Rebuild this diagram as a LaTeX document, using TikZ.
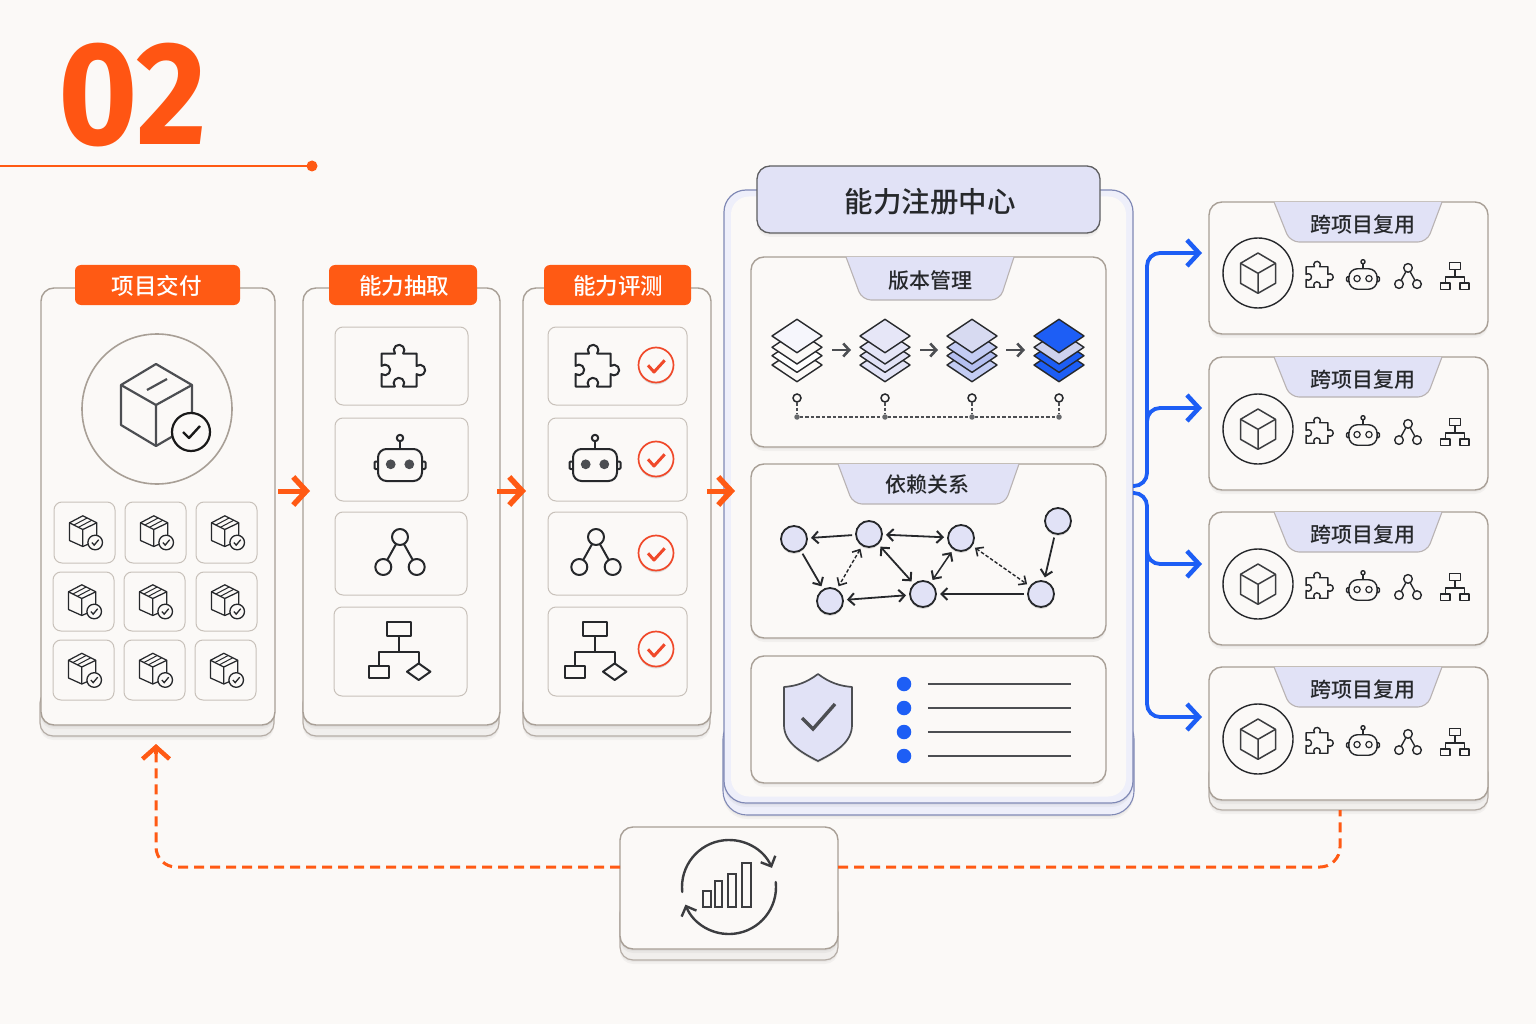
\documentclass[tikz,border=0pt]{standalone}
\usepackage{fontspec}
\setmainfont{Noto Sans CJK SC}
\newfontfamily\numfont{Fira Sans}
\newfontfamily\medf{Noto Sans CJK SC Medium}
\newfontfamily\strf{Noto Sans CJK SC Medium}
\usetikzlibrary{arrows.meta,shadows,calc}
\definecolor{bgc}{HTML}{FBF9F7}
\definecolor{edgec}{HTML}{A89F96}
\definecolor{tilee}{HTML}{C8C1BA}
\definecolor{orng}{HTML}{FF5A14}
\definecolor{lav}{HTML}{E1E2F6}
\definecolor{inkc}{HTML}{26282B}
\definecolor{greyc}{HTML}{4C4E52}
\definecolor{bluec}{HTML}{1D5EF5}
\definecolor{redc}{HTML}{F0492A}
\definecolor{hubedge}{HTML}{8089B5}
\tikzset{
  softshade/.style={general shadow={shadow xshift=0pt,shadow yshift=-4pt,opacity=.035,fill=black},general shadow={shadow xshift=0pt,shadow yshift=-2pt,opacity=.035,fill=black}},
  cardbox/.style={rectangle,rounded corners=13pt,draw=edgec,line width=1.4pt,fill=bgc,inner sep=0pt,outer sep=0pt,softshade},
  backbox/.style={rectangle,rounded corners=13pt,draw=edgec!85,line width=1.2pt,fill=bgc!96!black,inner sep=0pt,outer sep=0pt,softshade},
  tilebox/.style={rectangle,rounded corners=8pt,draw=tilee,line width=1pt,fill=bgc,inner sep=0pt,outer sep=0pt},
  tagbox/.style={rectangle,rounded corners=6pt,fill=orng,text=white,inner sep=0pt,outer sep=0pt},
  labelt/.style={inner sep=0pt,text=inkc,font=\fontsize{21pt}{23pt}\selectfont\medf},
  tagt/.style={text=white,inner sep=0pt,font=\fontsize{22.5pt}{24pt}\selectfont\strf},
  ico/.style={draw=inkc,line width=2pt,line join=round},
  icos/.style={draw=inkc,line width=1.4pt,line join=round},
  oarrow/.style={draw=orng,line width=5pt,-{Straight Barb[length=13pt,width=28pt,line width=5.5pt]}},
  blarrow/.style={draw=bluec,line width=3.8pt,rounded corners=13pt,-{Straight Barb[length=12pt,width=26pt,line width=4.5pt]}},
  fbline/.style={draw=orng,line width=3pt,dash pattern=on 10pt off 6pt,rounded corners=20pt},
  gnode/.style={circle,draw=inkc,line width=1.8pt,fill=lav,minimum size=26pt,inner sep=0pt,outer sep=0pt,general shadow={shadow xshift=0pt,shadow yshift=-2pt,opacity=.12,fill=black}},
  glink/.style={draw=inkc,line width=1.8pt,>={Straight Barb[length=6pt,width=12pt,line width=2pt]},shorten <=4pt,shorten >=4pt},
  gdash/.style={glink,line width=1.4pt,dash pattern=on 3.5pt off 2pt,>={Straight Barb[length=6pt,width=11pt,line width=1.6pt]}},
  verarrow/.style={draw=greyc,line width=2.4pt,-{Straight Barb[length=6pt,width=13pt,line width=2.6pt]}},
  laydm/.style={draw=inkc,line width=1.4pt,line join=round},
}
\newcommand{\cardat}[6]{\node[#1,minimum width={(#5-#3)*1pt},minimum height={(#6-#4)*1pt}] (#2) at ({(#3+#5)/2},{(#4+#6)/2}) {};}
\newcommand{\traptab}[6]{%
  \fill[lav] (#1,#5) [rounded corners=9pt] -- (#2,#6) -- (#3,#6) [sharp corners] -- (#4,#5) -- cycle;
  \draw[draw=edgec!70!lav,line width=1.1pt] (#1,#5) [rounded corners=9pt] -- (#2,#6) -- (#3,#6) [sharp corners] -- (#4,#5);
}
\newcommand{\puzzleicon}[4]{\begin{scope}[shift={(#1,#2)},scale=#3]
  \draw[#4] (-17.5,-16.5) -- (-4,-16.5) arc[start angle=220,end angle=-40,radius=5.3pt] -- (17.5,-16.5) -- (17.5,-4) arc[start angle=130,end angle=-130,radius=5.3pt] -- (17.5,16.5) -- (4,16.5) arc[start angle=-40,end angle=220,radius=5.3pt] -- (-17.5,16.5) -- (-17.5,4) arc[start angle=-130,end angle=130,radius=5.3pt] -- cycle;
\end{scope}}
\newcommand{\roboticon}[5]{\begin{scope}[shift={(#1,#2)},scale=#3]
  \draw[#4,rounded corners=8.5pt] (-22,-16) rectangle (22,16);
  \draw[#4] (0,-16) -- (0,-24);
  \draw[#4] (0,-27) circle[radius=3.2pt];
  \draw[#4,rounded corners=1pt] (-22,-3.5) -- (-25.5,-3.5) -- (-25.5,4) -- (-22,4);
  \draw[#4,rounded corners=1pt] (22,-3.5) -- (25.5,-3.5) -- (25.5,4) -- (22,4);
  \path[#5] (-9.3,-.7) circle[radius=4.9pt] (9.3,-.7) circle[radius=4.9pt];
\end{scope}}
\newcommand{\neticon}[4]{\begin{scope}[shift={(#1,#2)},scale=#3]
  \draw[#4] (0,-15) circle[radius=8pt] (-16.7,15) circle[radius=8pt] (16.7,15) circle[radius=8pt];
  \draw[#4] (-3.9,-8) -- (-12.8,8) (3.9,-8) -- (12.8,8);
\end{scope}}
\newcommand{\flowicon}[3]{\begin{scope}[shift={(#1,#2)}]
  \draw[#3] (-12,-29.7) rectangle (12,-15.7);
  \draw[#3] (0,-15.7) -- (0,0) (-19.7,14.3) -- (-19.7,0) -- (19.7,0) -- (19.7,11.4);
  \draw[#3] (-30,14.3) rectangle (-9.7,26.3);
  \draw[#3] (19.7,11.4) -- (31.4,19.7) -- (19.7,28) -- (8,19.7) -- cycle;
\end{scope}}
\newcommand{\flowsmall}[3]{\begin{scope}[shift={(#1,#2)}]
  \draw[#3] (-5.7,-14.7) rectangle (5.3,-7.3);
  \draw[#3] (0,-7.3) -- (0,0) (-9.5,6) -- (-9.5,0) -- (9.5,0) -- (9.5,6);
  \draw[#3] (-14.3,6) rectangle (-5,12.7);
  \draw[#3] (5,6) rectangle (14,12.7);
\end{scope}}
\newcommand{\minibox}[2]{\begin{scope}[shift={(#1,#2)}]
  \draw[draw=inkc,line width=1.25pt,line join=round] (-1.7,-16.7) -- (12.3,-9.7) -- (12.3,8) -- (-1.7,14) -- (-15,8) -- (-15,-9.7) -- cycle;
  \draw[draw=inkc,line width=1.25pt,line join=round] (-15,-9.7) -- (-1.7,-3) -- (12.3,-9.7) (-1.7,-3) -- (-1.7,14);
  \draw[draw=inkc,line width=1pt] (-10.6,-7.5) -- (2.7,-14.5) (-6.1,-5.2) -- (7.2,-12.2);
  \draw[draw=inkc,fill=bgc,line width=1.3pt] (10.7,10) circle[radius=7.3pt];
  \draw[draw=inkc,line width=1.3pt] (7.3,10) -- (9.7,12.6) -- (14.2,7.2);
\end{scope}}
\newcommand{\redcheck}[2]{\begin{scope}[shift={(#1,#2)}]
  \draw[draw=redc,fill=bgc,line width=1.7pt,general shadow={shadow xshift=0pt,shadow yshift=-2pt,opacity=.12,fill=black}] (0,0) circle[radius=17.5pt];
  \draw[draw=redc,line width=3pt,line join=round] (-8,.3) -- (-2,7) -- (8.7,-4.7);
\end{scope}}
\newcommand{\layeritem}[5]{%
  \draw[laydm,fill=#2] (#1-25,365) -- (#1,348.3) -- (#1+25,365) -- (#1,381.7) -- cycle;
  \draw[laydm,fill=#3] (#1-25,355.7) -- (#1,339) -- (#1+25,355.7) -- (#1,372.4) -- cycle;
  \draw[laydm,fill=#4] (#1-25,347.3) -- (#1,330.6) -- (#1+25,347.3) -- (#1,364) -- cycle;
  \draw[laydm,fill=#5] (#1-25,336) -- (#1,319.3) -- (#1+25,336) -- (#1,352.7) -- cycle;
}
\definecolor{layA}{HTML}{C3CCF3}
\definecolor{layB}{HTML}{B4BFF0}
\definecolor{layC}{HTML}{D7DAF1}
\definecolor{layD}{HTML}{CDD2EE}
\begin{document}
\begin{tikzpicture}[x=1pt,y=-1pt]
\useasboundingbox (0,0) rectangle (1536,1024);
\fill[bgc] (0,0) rectangle (1536,1024);
% heading
\node[inner sep=0pt,xscale=.925,text=orng!95!red,font=\fontsize{147pt}{147pt}\selectfont\numfont\bfseries] (num) at (132.5,95.5) {02};
\draw[orng,line width=1.6pt] (0,166) -- (312,166);
\fill[orng] (312,166) circle[radius=5.5pt];

% process columns
\cardat{backbox}{p1b}{40}{690}{274}{736}
\cardat{cardbox}{p1}{41}{288}{275}{725}
\cardat{backbox}{p2b}{303}{690}{499}{736}
\cardat{cardbox}{p2}{303}{288}{500}{725}
\cardat{backbox}{p3b}{523}{690}{710}{736}
\cardat{cardbox}{p3}{523}{288}{711}{725}
\cardat{tagbox}{tag1}{75}{265}{240}{305}
\cardat{tagbox}{tag2}{329}{265}{477}{305}
\cardat{tagbox}{tag3}{544}{265}{691}{305}
\node[tagt] (tag1t) at (156.5,286) {项目交付};
\node[tagt] (tag2t) at (404,286) {能力抽取};
\node[tagt] (tag3t) at (618,286) {能力评测};

% big package
\node[circle,draw=edgec,line width=1.6pt,minimum size=150pt,inner sep=0pt] (bigc) at (157,409) {};
\draw[draw=greyc,line width=2.2pt,line join=round] (156,364) -- (192,385) -- (192,425) -- (156,446) -- (121,425) -- (121,385) -- cycle;
\draw[draw=greyc,line width=2.2pt,line join=round] (121,385) -- (156,405) -- (192,385) (156,405) -- (156,446);
\draw[draw=greyc,line width=2.2pt] (147,390) -- (167,379);
\node[circle,draw=black!90,fill=bgc,line width=2.2pt,minimum size=38pt,inner sep=0pt] (bigchk) at (191,432) {};
\draw[draw=black!90,line width=2.4pt,line join=round] (183,432) -- (189,438) -- (200,426);
% package tiles
\cardat{tilebox}{a1}{54}{502}{115}{563}
\cardat{tilebox}{a2}{125}{502}{186}{563}
\cardat{tilebox}{a3}{196}{502}{257}{563}
\cardat{tilebox}{a4}{53}{572}{114}{631}
\cardat{tilebox}{a5}{124}{572}{185}{631}
\cardat{tilebox}{a6}{196}{572}{257}{631}
\cardat{tilebox}{a7}{53}{640}{114}{700}
\cardat{tilebox}{a8}{124}{640}{185}{700}
\cardat{tilebox}{a9}{195}{640}{256}{700}
\minibox{84.5}{532.5}\minibox{155.5}{532.5}\minibox{226.5}{532.5}
\minibox{83.5}{601.5}\minibox{154.5}{601.5}\minibox{226.5}{601.5}
\minibox{83.5}{670}\minibox{154.5}{670}\minibox{225.5}{670}

% capability tiles
\cardat{tilebox}{b1}{335}{327}{468}{405}
\cardat{tilebox}{b2}{335}{418}{468}{501}
\cardat{tilebox}{b3}{335}{512}{467}{595}
\cardat{tilebox}{b4}{334}{607}{467}{696}
\puzzleicon{399}{370}{1}{ico}
\roboticon{400}{465}{1}{ico}{fill=greyc}
\neticon{400}{552}{1}{ico}
\flowicon{399}{652}{ico}
\cardat{tilebox}{c1}{548}{327}{687}{405}
\cardat{tilebox}{c2}{548}{418}{687}{501}
\cardat{tilebox}{c3}{548}{512}{687}{595}
\cardat{tilebox}{c4}{548}{607}{687}{696}
\puzzleicon{593}{370}{1}{ico}
\roboticon{595}{465}{1}{ico}{fill=greyc}
\neticon{596}{552}{1}{ico}
\flowicon{595}{652}{ico}
\redcheck{656}{365}\redcheck{656}{459}\redcheck{656}{553}\redcheck{656}{649}

% registry hub
\node[rectangle,rounded corners=24pt,draw=hubedge,fill=lav!55!white,line width=1.1pt,minimum width=411pt,minimum height=100pt,softshade] (hubb) at (928.5,765) {};
\node[rectangle,rounded corners=22pt,draw=hubedge,fill=lav!55!white,line width=1.2pt,minimum width=409pt,minimum height=613pt,inner sep=0pt,outer sep=0pt,softshade] (hub) at (928.5,496.5) {};
\node[rectangle,rounded corners=18pt,fill=bgc,minimum width=395pt,minimum height=600pt,inner sep=0pt] (hubi) at (928.5,496.5) {};
\cardat{rectangle,rounded corners=13pt,draw=greyc!80!edgec,line width=1.3pt,fill=lav,inner sep=0pt,outer sep=0pt,softshade}{title}{757}{166}{1100}{233}
\node[inner sep=0pt,text=inkc,font=\fontsize{28.5pt}{30pt}\selectfont\strf] (titlet) at (930,202) {能力注册中心};
% version panel
\cardat{cardbox}{v}{751}{257}{1106}{447}
\traptab{846}{862}{1000}{1014}{257}{300}
\node[labelt] (vt) at (930,280.5) {版本管理};
\layeritem{797}{bgc}{white}{bgc}{lav!30!white}
\layeritem{885}{lav!95!white}{lav}{lav!90!white}{lav!85!white}
\layeritem{972}{layA}{layB}{layA}{layC}
\layeritem{1059}{bluec}{bluec}{layD}{bluec}
\draw[verarrow] (832,350) -- (851,350);
\draw[verarrow] (920,350) -- (938,350);
\draw[verarrow] (1006,350) -- (1025,350);
\foreach \n/\x in {1/797,2/885,3/972,4/1059}{
  \node[circle,draw=inkc,fill=bgc,line width=1.5pt,minimum size=8pt,inner sep=0pt,outer sep=0pt] (vo\n) at (\x,398) {};
  \node[circle,fill=greyc!85,minimum size=5.5pt,inner sep=0pt,outer sep=0pt] (vd\n) at (\x,417) {};
  \draw[draw=greyc,line width=1.5pt,dash pattern=on 3.5pt off 2pt] (vo\n) -- (vd\n);
}
\draw[draw=greyc,line width=1.5pt,dash pattern=on 3.5pt off 2pt] (vd1) -- (vd2);
\draw[draw=greyc,line width=1.5pt,dash pattern=on 3.5pt off 2pt] (vd2) -- (vd3);
\draw[draw=greyc,line width=1.5pt,dash pattern=on 3.5pt off 2pt] (vd3) -- (vd4);
% dependency panel
\cardat{cardbox}{d}{751}{464}{1106}{638}
\traptab{838}{853}{1005}{1019}{464}{504}
\node[labelt] (dt) at (927,485) {依赖关系};
\node[gnode] (gA) at (794,539) {};
\node[gnode] (gB) at (869,534) {};
\node[gnode] (gC) at (961,538) {};
\node[gnode] (gD) at (1058,521) {};
\node[gnode] (gE) at (830,601) {};
\node[gnode] (gF) at (923,594) {};
\node[gnode] (gG) at (1041,594) {};
\draw[glink,->] (gB) -- (gA);
\draw[glink,<->] (gB) -- (gC);
\draw[glink,->] (gA) -- (gE);
\draw[gdash,<->] (gB) -- (gE);
\draw[glink,<->] (gB) -- (gF);
\draw[glink,<->,line width=1.5pt] (gC) -- (gF);
\draw[gdash,<->] (gC) -- (gG);
\draw[glink,<->] (gE) -- (gF);
\draw[glink,->] (gG) -- (gF);
\draw[glink,->] (gD) -- (gG);
% governance panel
\cardat{cardbox}{s}{751}{656}{1106}{783}
\draw[draw=greyc,fill=lav,line width=1.7pt,line join=round,general shadow={shadow xshift=0pt,shadow yshift=-2pt,opacity=.08,fill=black}] (818,674) .. controls (806,683) and (796,686) .. (784,687) -- (784,725) .. controls (784,742) and (800,752) .. (818,761) .. controls (836,752) and (852,742) .. (852,725) -- (852,687) .. controls (840,686) and (830,683) .. (818,674) -- cycle;
\draw[draw=greyc,line width=3.4pt] (802,718) -- (813,729) -- (835,704);
\foreach \n/\y in {1/684,2/708,3/732,4/756}{
  \node[circle,fill=bluec,minimum size=14.5pt,inner sep=0pt,outer sep=0pt] (sb\n) at (904,\y) {};
  \coordinate (se\n) at (1071,\y);
  \draw[draw=greyc,line width=1.5pt] ([xshift=16.5pt]sb\n.east) -- (se\n);
}

% reuse cards
\cardat{backbox}{r4b}{1209}{760}{1488}{810}
\cardat{cardbox}{r1}{1209}{202}{1488}{334}
\cardat{cardbox}{r2}{1209}{357}{1488}{490}
\cardat{cardbox}{r3}{1209}{512}{1488}{645}
\cardat{cardbox}{r4}{1209}{667}{1488}{800}
\foreach \n/\t/\c in {1/202/273,2/357/429,3/512/584,4/667/739}{
  \traptab{1274}{1290}{1427}{1442}{\t}{\t+40}
  \node[labelt] (rt\n) at (1363,\t+22.5) {跨项目复用};
  \node[circle,draw=inkc,line width=1.4pt,minimum size=70pt,inner sep=0pt] (rc\n) at (1258,\c) {};
  \begin{scope}[shift={(1258,\c)}]
    \draw[draw=inkc!90,line width=1.5pt,line join=round] (0,-20) -- (17.5,-9.7) -- (17.5,10.3) -- (0,20.3) -- (-17.5,10.3) -- (-17.5,-9.7) -- cycle;
    \draw[draw=inkc!90,line width=1.5pt,line join=round] (-17.5,-9.7) -- (0,.3) -- (17.5,-9.7) (0,.3) -- (0,20.3);
  \end{scope}
  \puzzleicon{1317}{\c+4}{.62}{icos}
  \roboticon{1363}{\c+6}{.64}{icos}{draw=inkc,line width=1.2pt}
  \neticon{1408}{\c+3}{.54}{icos}
  \flowsmall{1455}{\c+4}{icos}
}

% feedback
\cardat{backbox}{fbb}{620}{900}{838}{960}
\cardat{cardbox}{fb}{620}{827}{838}{949}
\begin{scope}[draw=inkc!90,line width=2.4pt,line cap=round,-{Straight Barb[length=8pt,width=16pt,line width=2.4pt]}]
  \draw (729,887) ++(186:47pt) arc[start angle=186,end angle=24,radius=47pt];
  \draw (729,887) ++(6:47pt) arc[start angle=6,end angle=-158,radius=47pt];
\end{scope}
\foreach \a/\b/\c in {702.7/710.7/891,715/722.3/880.7,727.7/735.7/874,742.3/751/862.7}{
  \draw[draw=inkc!90,line width=1.9pt,fill=bgc] (\a,\c) rectangle (\b,907.3);
}

% connectors
\coordinate (fy) at (0,491);
\draw[oarrow] ([xshift=3pt]p1.east |- fy) -- ([xshift=7pt]p2.west |- fy);
\draw[oarrow] ([xshift=-3pt]p2.east |- fy) -- ([xshift=3pt]p3.west |- fy);
\draw[oarrow] ([xshift=-4pt]p3.east |- fy) -- ([xshift=11pt]hub.west |- fy);
\coordinate (by0) at (0,486);
\coordinate (by1) at (0,253);
\coordinate (by2) at (0,408);
\coordinate (by3) at (0,564);
\coordinate (by4) at (0,717);
\coordinate (byt) at (0,493);
\coordinate (bx) at (1147,0);
\draw[blarrow] (hub.east |- by0) -| (bx |- by1) -- ([xshift=-7pt]r1.west |- by1);
\draw[blarrow] (bx |- 0,430) -- (bx |- by2) -- ([xshift=-7pt]r2.west |- by2);
\draw[blarrow] (hub.east |- byt) -| (bx |- by4) -- ([xshift=-7pt]r4.west |- by4);
\draw[blarrow] (bx |- 0,540) -- (bx |- by3) -- ([xshift=-7pt]r3.west |- by3);
\coordinate (fyy) at (0,867);
\draw[fbline] (fb.west |- fyy) -| ([yshift=-9pt]p1b.south -| 156,0);
\draw[draw=orng,line width=4.5pt,-{Straight Barb[length=12pt,width=27pt,line width=4.5pt]}] (156,754) -- (156,744);
\draw[fbline] (fb.east |- fyy) -| (1340,810);
\end{tikzpicture}
\end{document}
